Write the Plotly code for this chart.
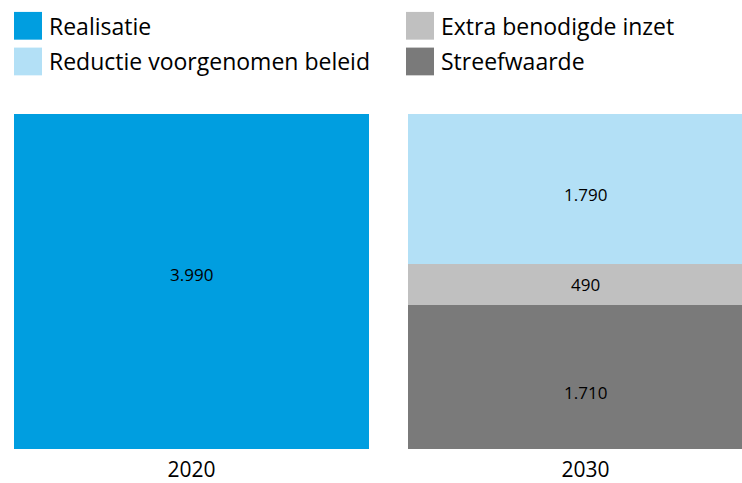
import plotly.graph_objects as go

# ---- data ----
categories = ["2020", "2030"]
realisatie = [3990, None]
streefwaarde = [None, 1710]
extra_inzet = [None, 490]
reductie_beleid = [None, 1790]

colors = {
    "Realisatie": "#009ee0",
    "Reductie voorgenomen beleid": "#b3e0f6",
    "Extra benodigde inzet": "#c0c0c0",
    "Streefwaarde": "#7a7a7a",
}
# vertical nudge (px) of each value label relative to its segment centre
label_shift = {
    "Realisatie": [7, 0],
    "Streefwaarde": [0, -15],
    "Extra benodigde inzet": [0, 0],
    "Reductie voorgenomen beleid": [0, -5],
}

W, H = 742, 483
PLOT_TOP, PLOT_BOTTOM = 114, 452
FONT = "'Open Sans', 'Noto Sans', sans-serif"

fig = go.Figure()
stack = [
    ("Realisatie", realisatie),
    ("Streefwaarde", streefwaarde),
    ("Extra benodigde inzet", extra_inzet),
    ("Reductie voorgenomen beleid", reductie_beleid),
]
annotations = []
base = [0.0 for _ in categories]
for name, vals in stack:
    fig.add_trace(go.Bar(
        x=categories, y=vals, name=name,
        marker=dict(color=colors[name], line=dict(width=0)),
        width=0.901,
        showlegend=False,
        hoverinfo="name+y",
    ))
    for i, v in enumerate(vals):
        if v is None:
            continue
        annotations.append(dict(
            x=i, y=base[i] + v / 2, xref="x", yref="y",
            text=f"{v:,.0f}".replace(",", "."), showarrow=False,
            yshift=label_shift[name][i],
            font=dict(size=17, color="#000000", family=FONT)))
        base[i] += v

def px_x(px):
    return px / W

def px_y(py):
    return (PLOT_BOTTOM - py) / (PLOT_BOTTOM - PLOT_TOP)

# custom legend (two columns, large swatches)
legend_layout = [
    ("Realisatie", 14, 11),
    ("Reductie voorgenomen beleid", 14, 47),
    ("Extra benodigde inzet", 406, 11),
    ("Streefwaarde", 406, 47),
]
shapes = []
for name, sx, sy in legend_layout:
    shapes.append(dict(type="rect", xref="paper", yref="paper",
                       x0=px_x(sx), x1=px_x(sx + 28), y0=px_y(sy + 28), y1=px_y(sy),
                       fillcolor=colors[name], line=dict(width=0)))
    annotations.append(dict(xref="paper", yref="paper", x=px_x(sx + 33), y=px_y(sy + 14),
                            text=name, showarrow=False, xanchor="left", yanchor="middle",
                            font=dict(size=23, color="#000000", family=FONT)))

center0 = 191.5
step = 394.0
fig.update_layout(
    width=W, height=H,
    barmode="stack",
    separators=",.",
    margin=dict(l=0, r=0, t=PLOT_TOP, b=H - PLOT_BOTTOM, pad=0),
    paper_bgcolor="white", plot_bgcolor="white",
    shapes=shapes, annotations=annotations,
    xaxis=dict(type="category", range=[-center0 / step, (W - center0) / step], showgrid=False,
               zeroline=False, showline=False, ticks="", ticklabelstandoff=6,
               tickfont=dict(size=21, color="#000000", family=FONT)),
    yaxis=dict(range=[0, 3990], visible=False, showgrid=False, zeroline=False),
)

fig.write_html(
    "out.html",
    config={"displayModeBar": False},
    post_script="document.body.style.margin='0';document.body.style.overflow='hidden';",
)
